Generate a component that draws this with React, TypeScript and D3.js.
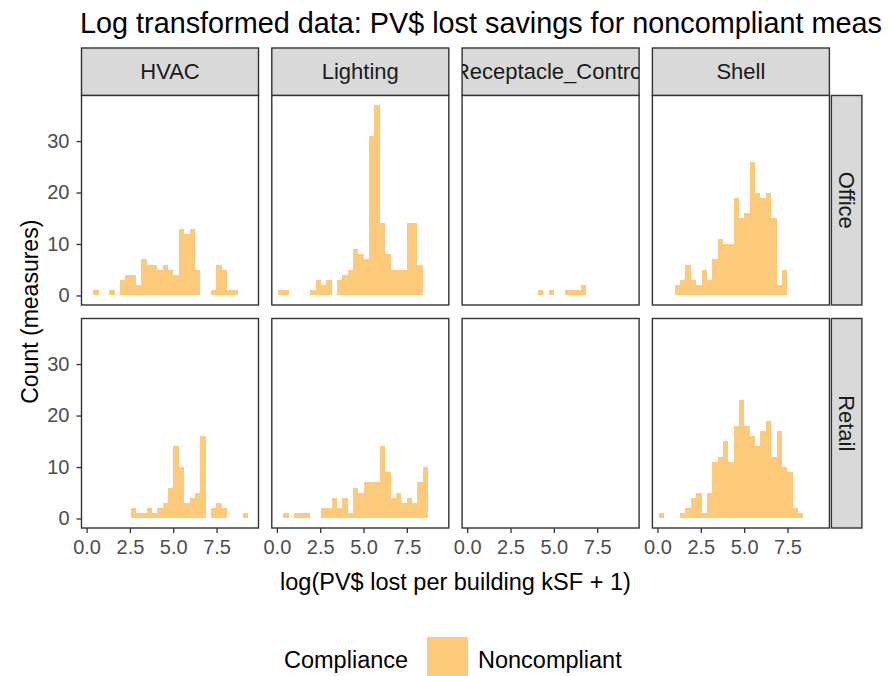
import * as d3 from "d3";
import React from "react";

// facet labels
const measures = ["HVAC", "Lighting", "Receptacle_Control", "Shell"];
const buildings = ["Office", "Retail"];

// 30 histogram bins shared by every panel
const binStart = 0.07;
const binWidth = 0.309;
const xTicks = [0, 2.5, 5, 7.5];
const yTicks = [0, 10, 20, 30];

// counts per bin
const hvacOffice = [0, 1, 0, 0, 1, 0, 3, 4, 4, 2, 7, 6, 6, 5, 6, 5, 4, 13, 12, 13, 5, 0, 0, 1, 6, 5, 1, 1, 0, 0];
const lightingOffice = [1, 1, 0, 0, 0, 0, 1, 3, 2, 3, 0, 3, 4, 5, 9, 8, 7, 31, 37, 14, 8, 5, 5, 5, 14, 14, 6, 0, 0, 0];
const receptacleOffice = [0, 0, 0, 0, 0, 0, 0, 0, 0, 0, 0, 0, 0, 1, 0, 1, 0, 0, 1, 1, 1, 2, 0, 0, 0, 0, 0, 0, 0, 0];
const shellOffice = [0, 0, 0, 2, 3, 6, 3, 2, 5, 3, 7, 11, 10, 10, 19, 15, 16, 26, 20, 19, 20, 15, 2, 5, 0, 0, 0, 0, 0, 0];
const hvacRetail = [0, 0, 0, 0, 0, 0, 0, 0, 2, 1, 1, 2, 1, 2, 3, 6, 14, 10, 3, 4, 5, 16, 0, 2, 3, 2, 0, 0, 0, 1];
const lightingRetail = [0, 1, 0, 1, 1, 1, 0, 0, 2, 2, 4, 2, 4, 1, 6, 5, 7, 7, 7, 14, 9, 4, 5, 3, 4, 3, 7, 10, 0, 0];
const receptacleRetail = [0, 0, 0, 0, 0, 0, 0, 0, 0, 0, 0, 0, 0, 0, 0, 0, 0, 0, 0, 0, 0, 0, 0, 0, 0, 0, 0, 0, 0, 0];
const shellRetail = [1, 0, 0, 0, 1, 2, 4, 5, 1, 5, 11, 12, 15, 11, 18, 23, 18, 16, 14, 17, 19, 12, 17, 10, 9, 2, 1, 0, 0, 0];

const panelCounts = [
  [hvacOffice, lightingOffice, receptacleOffice, shellOffice],
  [hvacRetail, lightingRetail, receptacleRetail, shellRetail],
];

const fillColor = "#fdca7c";
const font = "'Liberation Sans', Arial, sans-serif";

const App = () => {
  const ref = React.useRef<SVGSVGElement>(null);

  React.useEffect(() => {
    const svg = d3.select(ref.current);
    svg.selectAll("*").remove();

    const panelLeft = 81.5,
      panelW = 177,
      colStep = 190.3,
      panelH = 209.5,
      rowTops = [95.5, 318.5],
      stripTop = 48;

    const x = d3.scaleLinear().domain([-0.294, 9.92]).range([0, panelW]);
    const y = d3.scaleLinear().domain([-1.85, 38.85]).range([panelH, 0]);

    // title, as much of it as the original picture shows
    svg
      .append("text")
      .attr("x", 80)
      .attr("y", 33)
      .attr("font-size", 28.8)
      .attr("fill", "#000")
      .text("Log transformed data: PV$ lost savings for noncompliant meas");

    const defs = svg.append("defs");

    // top strips
    measures.forEach((m, c) => {
      const left = panelLeft + c * colStep;
      defs
        .append("clipPath")
        .attr("id", "strip-clip-" + c)
        .append("rect")
        .attr("x", left)
        .attr("y", stripTop)
        .attr("width", panelW)
        .attr("height", rowTops[0] - stripTop);
      svg
        .append("rect")
        .attr("x", left)
        .attr("y", stripTop)
        .attr("width", panelW)
        .attr("height", rowTops[0] - stripTop)
        .attr("fill", "#d9d9d9")
        .attr("stroke", "#333333")
        .attr("stroke-width", 1.4);
      svg
        .append("text")
        .attr("clip-path", "url(#strip-clip-" + c + ")")
        .attr("x", left + panelW / 2)
        .attr("y", (stripTop + rowTops[0]) / 2)
        .attr("dy", "0.35em")
        .attr("text-anchor", "middle")
        .attr("font-size", 22)
        .attr("fill", "#1a1a1a")
        .text(m);
    });

    // right strips
    const rightStripX = panelLeft + 3 * colStep + panelW + 2;
    buildings.forEach((b, r) => {
      svg
        .append("rect")
        .attr("x", rightStripX)
        .attr("y", rowTops[r])
        .attr("width", 30.5)
        .attr("height", panelH)
        .attr("fill", "#d9d9d9")
        .attr("stroke", "#333333")
        .attr("stroke-width", 1.4);
      svg
        .append("text")
        .attr("transform", `translate(${rightStripX + 15.25},${rowTops[r] + panelH / 2}) rotate(90)`)
        .attr("dy", "0.35em")
        .attr("text-anchor", "middle")
        .attr("font-size", 22)
        .attr("fill", "#1a1a1a")
        .text(b);
    });

    // panels
    panelCounts.forEach((row, r) => {
      row.forEach((counts, c) => {
        const g = svg
          .append("g")
          .attr("transform", `translate(${panelLeft + c * colStep},${rowTops[r]})`);

        g.append("rect")
          .attr("width", panelW)
          .attr("height", panelH)
          .attr("fill", "#fff");

        g.selectAll("rect.bar")
          .data(counts.map((n, i) => ({ n, i })).filter((d) => d.n > 0))
          .enter()
          .append("rect")
          .attr("class", "bar")
          .attr("x", (d) => x(binStart + d.i * binWidth))
          .attr("width", (d) => x(binStart + (d.i + 1) * binWidth) - x(binStart + d.i * binWidth))
          .attr("y", (d) => y(d.n))
          .attr("height", (d) => y(0) - y(d.n))
          .attr("fill", fillColor)
          .attr("shape-rendering", "crispEdges");

        g.append("rect")
          .attr("width", panelW)
          .attr("height", panelH)
          .attr("fill", "none")
          .attr("stroke", "#333333")
          .attr("stroke-width", 1.4);

        if (c === 0) {
          const yAxis = g.append("g").call(d3.axisLeft(y).tickValues(yTicks).tickSize(5).tickPadding(7));
          yAxis.select(".domain").remove();
          yAxis.selectAll("line").attr("stroke", "#333333").attr("stroke-width", 1.3);
          yAxis
            .selectAll("text")
            .attr("fill", "#4d4d4d")
            .attr("font-size", 20)
            .attr("font-family", font);
        }
        if (r === 1) {
          const xAxis = g
            .append("g")
            .attr("transform", `translate(0,${panelH})`)
            .call(d3.axisBottom(x).tickValues(xTicks).tickFormat(d3.format(".1f")).tickSize(5).tickPadding(7));
          xAxis.select(".domain").remove();
          xAxis.selectAll("line").attr("stroke", "#333333").attr("stroke-width", 1.3);
          xAxis
            .selectAll("text")
            .attr("fill", "#4d4d4d")
            .attr("font-size", 20)
            .attr("font-family", font);
        }
      });
    });

    // axis titles
    const plotMid = panelLeft + (3 * colStep + panelW) / 2;
    svg
      .append("text")
      .attr("x", plotMid)
      .attr("y", 590)
      .attr("text-anchor", "middle")
      .attr("font-size", 23.5)
      .attr("fill", "#000")
      .text("log(PV$ lost per building kSF + 1)");
    svg
      .append("text")
      .attr("transform", `translate(30,${(rowTops[0] + rowTops[1] + panelH) / 2}) rotate(-90)`)
      .attr("dy", "0.35em")
      .attr("text-anchor", "middle")
      .attr("font-size", 23)
      .attr("fill", "#000")
      .text("Count (measures)");

    // legend
    svg
      .append("text")
      .attr("x", 284)
      .attr("y", 668)
      .attr("font-size", 23.5)
      .attr("fill", "#000")
      .text("Compliance");
    svg
      .append("rect")
      .attr("x", 427)
      .attr("y", 637)
      .attr("width", 41)
      .attr("height", 41)
      .attr("fill", fillColor);
    svg
      .append("text")
      .attr("x", 478)
      .attr("y", 668)
      .attr("font-size", 23.5)
      .attr("fill", "#000")
      .text("Noncompliant");
  }, []);

  return (
    <svg
      ref={ref}
      width={889}
      height={676}
      style={{ position: "absolute", left: 0, top: 0, background: "#fff", fontFamily: font }}
    />
  );
};

export default App;
